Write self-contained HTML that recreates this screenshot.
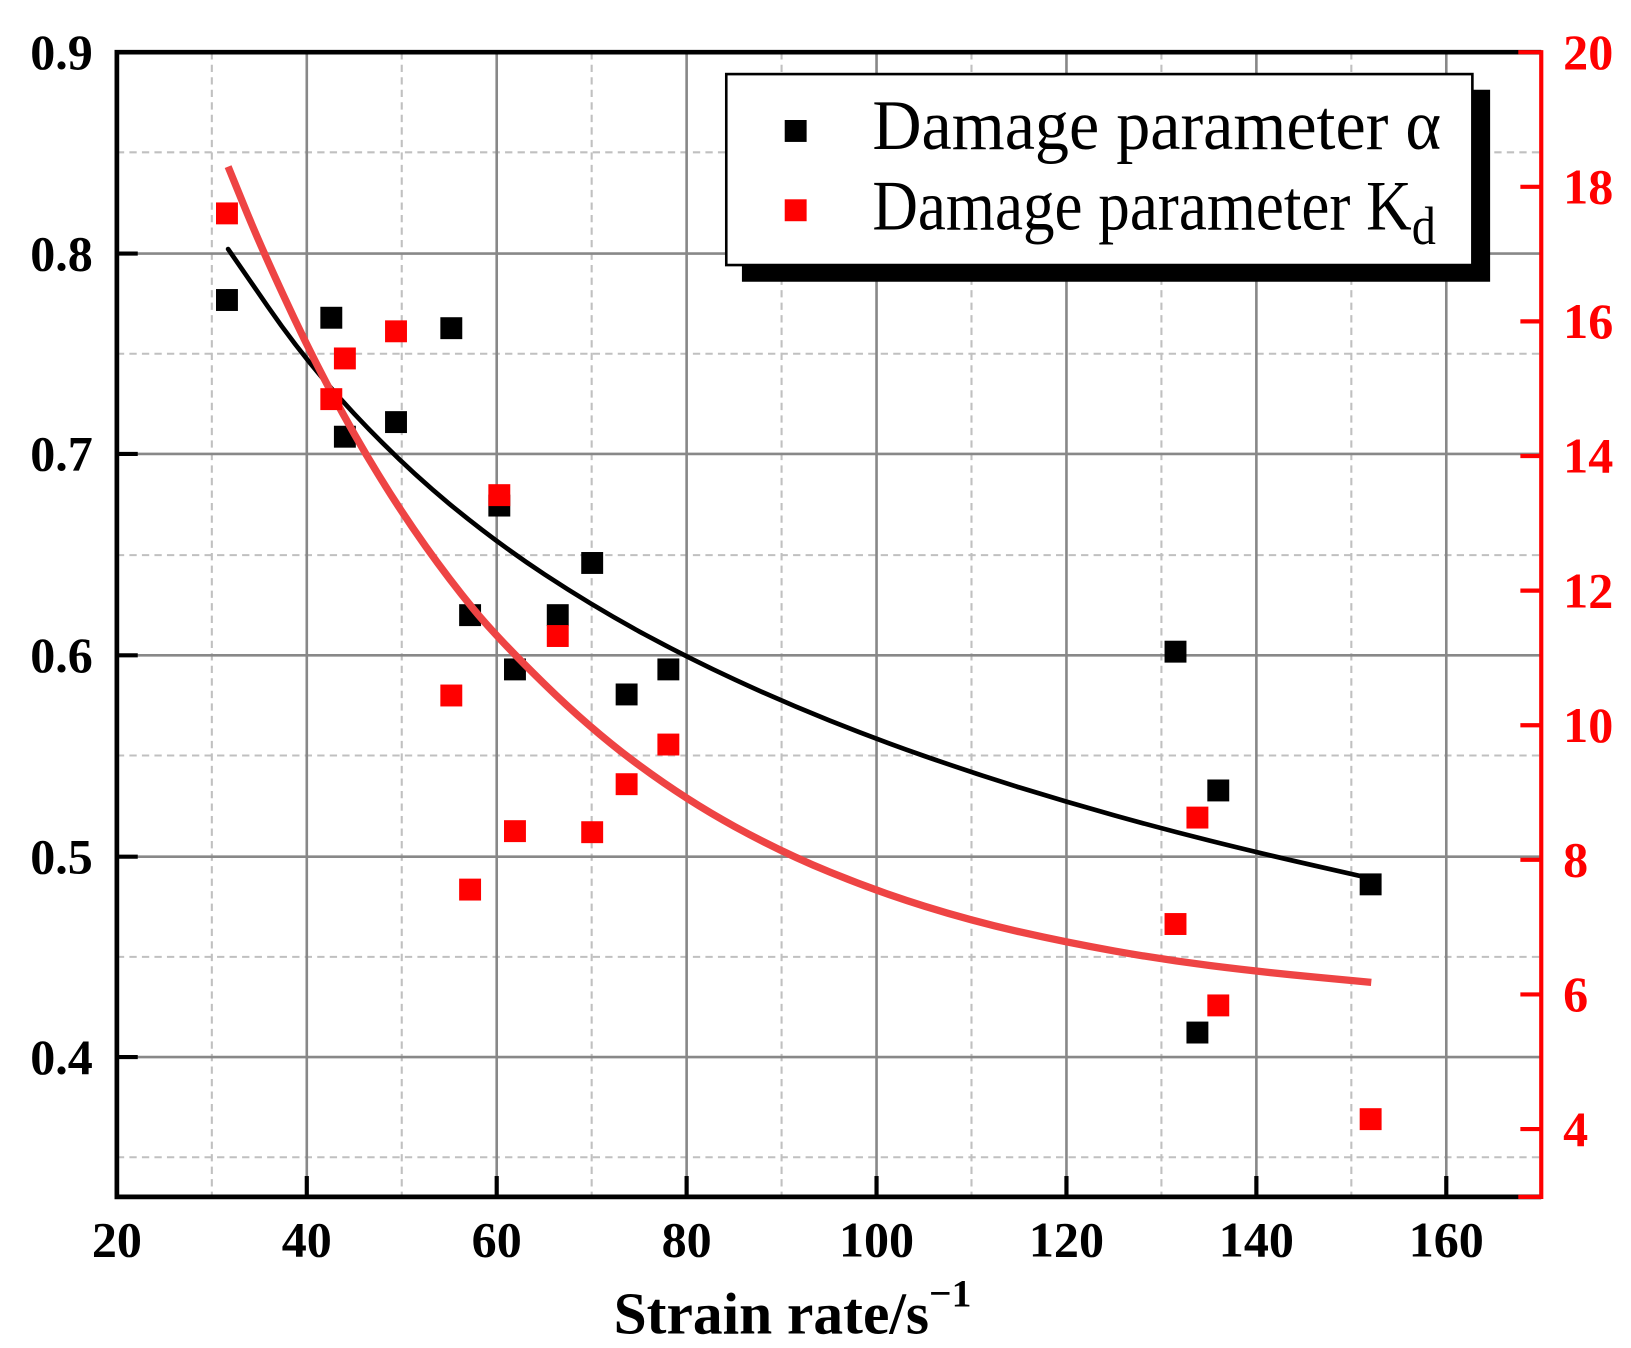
<!DOCTYPE html>
<html><head><meta charset="utf-8"><style>html,body{margin:0;padding:0;background:#fff}svg{display:block}</style></head>
<body>
<svg width="1631" height="1348" viewBox="0 0 1631 1348" xmlns="http://www.w3.org/2000/svg">
<g transform="scale(1.0435)">
<g stroke="#c0c0c0" stroke-width="2" stroke-dasharray="7,5" fill="none">
<line x1="203" y1="50" x2="203" y2="1147"/><line x1="385" y1="50" x2="385" y2="1147"/><line x1="567" y1="50" x2="567" y2="1147"/><line x1="749" y1="50" x2="749" y2="1147"/><line x1="931" y1="50" x2="931" y2="1147"/><line x1="1113" y1="50" x2="1113" y2="1147"/><line x1="1295" y1="50" x2="1295" y2="1147"/>
<line x1="112" y1="146" x2="1477" y2="146"/><line x1="112" y1="339" x2="1477" y2="339"/><line x1="112" y1="532" x2="1477" y2="532"/><line x1="112" y1="724" x2="1477" y2="724"/><line x1="112" y1="917" x2="1477" y2="917"/><line x1="112" y1="1109" x2="1477" y2="1109"/>
</g>
<g stroke="#888" stroke-width="2.5" fill="none">
<line x1="294" y1="50" x2="294" y2="1147"/><line x1="476" y1="50" x2="476" y2="1147"/><line x1="658" y1="50" x2="658" y2="1147"/><line x1="840" y1="50" x2="840" y2="1147"/><line x1="1022" y1="50" x2="1022" y2="1147"/><line x1="1204" y1="50" x2="1204" y2="1147"/><line x1="1386" y1="50" x2="1386" y2="1147"/>
<line x1="112" y1="243" x2="1477" y2="243"/><line x1="112" y1="435" x2="1477" y2="435"/><line x1="112" y1="628" x2="1477" y2="628"/><line x1="112" y1="821" x2="1477" y2="821"/><line x1="112" y1="1013" x2="1477" y2="1013"/>
</g>
<g stroke="#000" stroke-width="4">
<line x1="294" y1="1147" x2="294" y2="1127"/><line x1="476" y1="1147" x2="476" y2="1127"/><line x1="658" y1="1147" x2="658" y2="1127"/><line x1="840" y1="1147" x2="840" y2="1127"/><line x1="1022" y1="1147" x2="1022" y2="1127"/><line x1="1204" y1="1147" x2="1204" y2="1127"/><line x1="1386" y1="1147" x2="1386" y2="1127"/>
<line x1="112" y1="243" x2="132" y2="243"/><line x1="112" y1="435" x2="132" y2="435"/><line x1="112" y1="628" x2="132" y2="628"/><line x1="112" y1="821" x2="132" y2="821"/><line x1="112" y1="1013" x2="132" y2="1013"/>
</g>
<g stroke="#f00" stroke-width="4">
<line x1="1477" y1="179" x2="1457" y2="179"/><line x1="1477" y1="308" x2="1457" y2="308"/><line x1="1477" y1="437" x2="1457" y2="437"/><line x1="1477" y1="566" x2="1457" y2="566"/><line x1="1477" y1="695" x2="1457" y2="695"/><line x1="1477" y1="824" x2="1457" y2="824"/><line x1="1477" y1="953" x2="1457" y2="953"/><line x1="1477" y1="1082" x2="1457" y2="1082"/>
</g>
<path d="M1477 50 H112 V1147 H1477" stroke="#000" stroke-width="4.5" fill="none"/>
<path d="M1455 50 H1477 V1147 H1455" stroke="#f00" stroke-width="4" fill="none"/>
<path fill="none" stroke="#000" stroke-width="4.5" stroke-linecap="round" d="M218.6,238.7 L256.4,293.4 Q294.1,348.1 339.7,396.8 Q385.2,445.4 430.8,483 Q476.3,520.5 521.9,550.5 Q567.4,580.4 612.9,605.3 Q658.4,630.1 704,651.2 Q749.5,672.3 795.1,690.5 Q840.6,708.7 886.1,724.6 Q931.6,740.5 977.2,754.7 Q1022.7,768.8 1068.3,781.5 Q1113.8,794.2 1159.3,805.6 Q1204.8,817 1259.5,829.5 L1314.1,841.9"/>
<g fill="#000">
<rect x="207" y="277" width="21" height="21"/><rect x="307" y="294" width="21" height="21"/><rect x="320" y="408" width="21" height="21"/><rect x="369" y="394" width="21" height="21"/><rect x="422" y="304" width="21" height="21"/><rect x="440" y="579" width="21" height="21"/><rect x="468" y="474" width="21" height="21"/><rect x="483" y="631" width="21" height="21"/><rect x="524" y="579" width="21" height="21"/><rect x="557" y="529" width="21" height="21"/><rect x="590" y="655" width="21" height="21"/><rect x="630" y="631" width="21" height="21"/><rect x="1116" y="614" width="21" height="21"/><rect x="1137" y="979" width="21" height="21"/><rect x="1157" y="747" width="21" height="21"/><rect x="1303" y="837" width="21" height="21"/>
</g>
<path fill="none" stroke="#ee4444" stroke-width="7" stroke-linecap="butt" d="M218.6,159.7 L233.6,196.5 Q248.6,233.3 271.4,282.6 Q294.1,331.9 316.9,374.8 Q339.7,417.7 362.5,454.7 Q385.2,491.7 408,523.7 Q430.7,555.6 453.5,583.4 Q476.3,611.2 521.9,655.7 Q567.4,700.2 612.9,733.7 Q658.4,767.2 704,792.1 Q749.5,817 795.1,835.7 Q840.6,854.3 886.1,868.5 Q931.6,882.7 977.2,893 Q1022.7,903.3 1068.3,911.4 Q1113.8,919.5 1159.3,925.3 Q1204.8,931.1 1259.5,936.3 L1314.1,941.4"/>
<g fill="#f00">
<rect x="207" y="194" width="21" height="21"/><rect x="307" y="372" width="21" height="21"/><rect x="320" y="333" width="21" height="21"/><rect x="369" y="307" width="21" height="21"/><rect x="422" y="656" width="21" height="21"/><rect x="440" y="842" width="21" height="21"/><rect x="468" y="464" width="21" height="21"/><rect x="483" y="786" width="21" height="21"/><rect x="524" y="599" width="21" height="21"/><rect x="557" y="787" width="21" height="21"/><rect x="590" y="741" width="21" height="21"/><rect x="630" y="703" width="21" height="21"/><rect x="1116" y="875" width="21" height="21"/><rect x="1137" y="773" width="21" height="21"/><rect x="1157" y="953" width="21" height="21"/><rect x="1303" y="1062" width="21" height="21"/>
</g>
<rect x="711" y="86" width="717" height="184" fill="#000"/>
<rect x="696" y="71" width="715" height="183" fill="#fff" stroke="#000" stroke-width="2.5"/>
<rect x="752" y="115" width="21" height="21" fill="#000"/>
<rect x="752" y="191" width="21" height="21" fill="#f00"/>
<g font-family="Liberation Serif, serif" font-size="68" fill="#000">
<text x="836" y="143" textLength="545" lengthAdjust="spacingAndGlyphs">Damage parameter α</text>
<text x="836" y="220" textLength="540" lengthAdjust="spacingAndGlyphs">Damage parameter K<tspan font-size="52" dy="14">d</tspan></text>
</g>
<g font-family="Liberation Serif, serif" font-weight="bold" font-size="48" fill="#000" text-anchor="end">
<text x="89" y="66">0.9</text><text x="89" y="259">0.8</text><text x="89" y="451">0.7</text><text x="89" y="644">0.6</text><text x="89" y="837">0.5</text><text x="89" y="1029">0.4</text>
</g>
<g font-family="Liberation Serif, serif" font-weight="bold" font-size="48" fill="#f00">
<text x="1498" y="66">20</text><text x="1498" y="195">18</text><text x="1498" y="324">16</text><text x="1498" y="453">14</text><text x="1498" y="582">12</text><text x="1498" y="711">10</text><text x="1498" y="840">8</text><text x="1498" y="969">6</text><text x="1498" y="1098">4</text>
</g>
<g font-family="Liberation Serif, serif" font-weight="bold" font-size="48" fill="#000" text-anchor="middle">
<text x="112" y="1204">20</text><text x="294" y="1204">40</text><text x="476" y="1204">60</text><text x="658" y="1204">80</text><text x="840" y="1204">100</text><text x="1022" y="1204">120</text><text x="1204" y="1204">140</text><text x="1386" y="1204">160</text>
</g>
<text x="588" y="1278" font-family="Liberation Serif, serif" font-weight="bold" font-size="57" fill="#000">Strain rate/s<tspan font-size="38" dy="-26">−1</tspan></text>
</g>
</svg>
</body></html>
